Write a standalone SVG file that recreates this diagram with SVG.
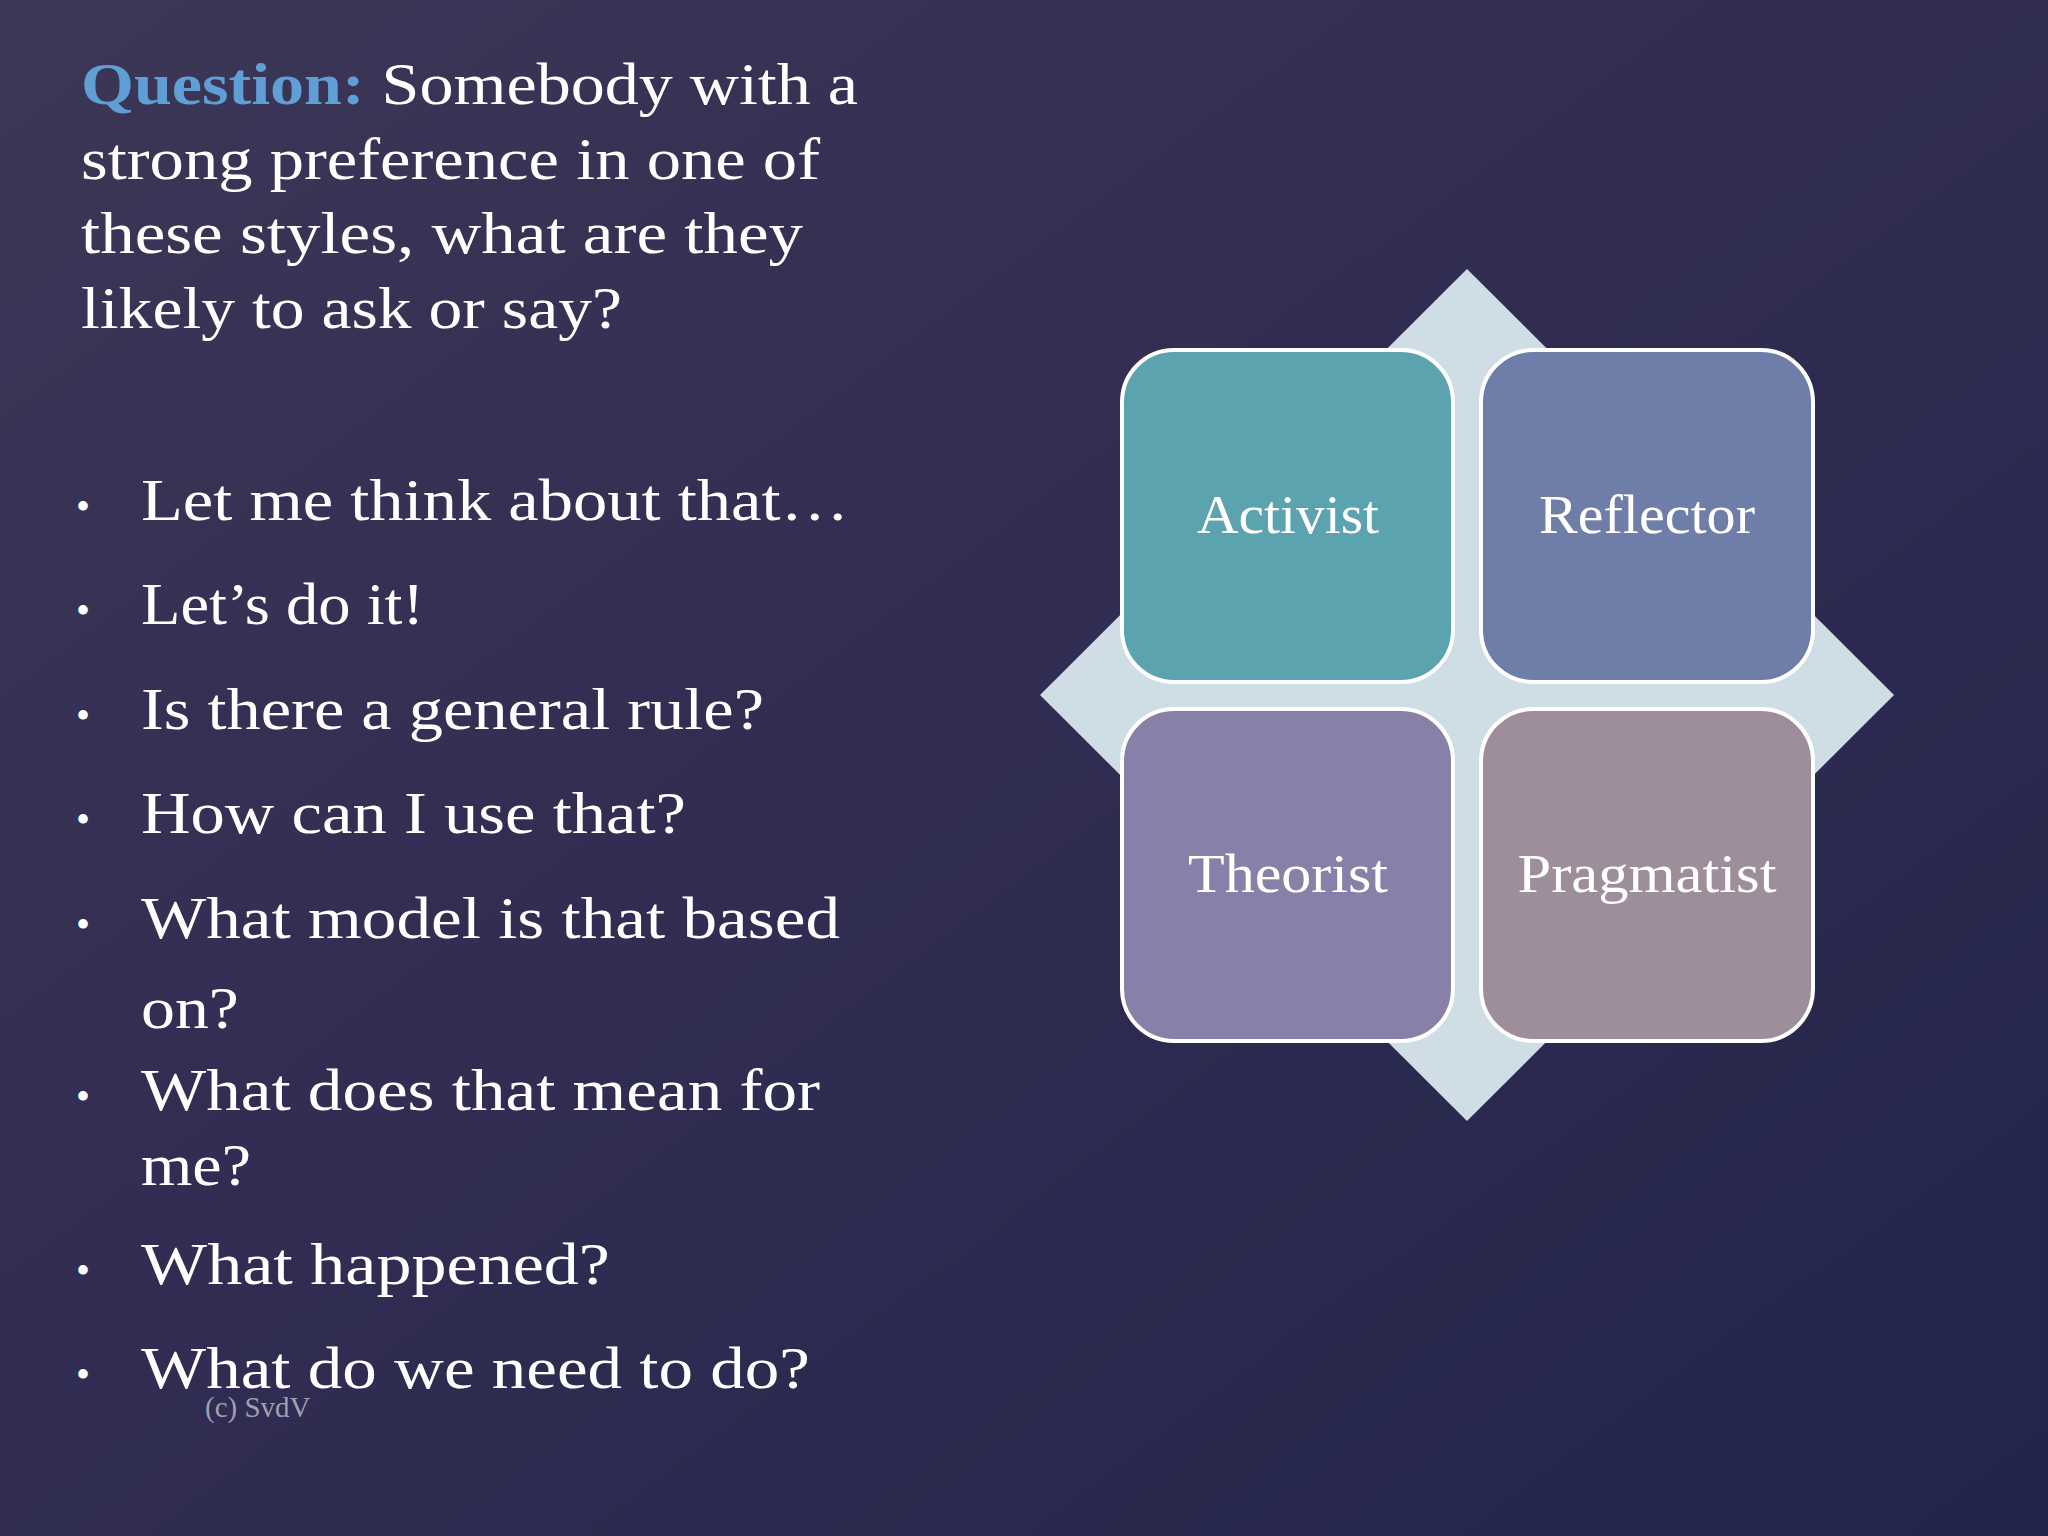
<svg xmlns="http://www.w3.org/2000/svg" width="2048" height="1536" viewBox="0 0 2048 1536">
<defs>
<linearGradient id="bg" x1="0" y1="0" x2="1" y2="1">
<stop offset="0" stop-color="#3c3756"/>
<stop offset="0.5" stop-color="#302c52"/>
<stop offset="1" stop-color="#22254a"/>
</linearGradient>
<style>
.t{font-family:"Liberation Serif","DejaVu Serif",serif;fill:#ffffff;font-size:60px}
.b{font-family:"Liberation Serif",serif;fill:#ffffff;font-size:40px}
.box{stroke:#ffffff;stroke-width:4}
.lbl{font-family:"Liberation Serif","DejaVu Serif",serif;fill:#ffffff;font-size:54px;text-anchor:middle}
</style>
</defs>
<rect width="2048" height="1536" fill="url(#bg)"/>
<g id="title">
<text class="t" x="81" y="104" textLength="777" lengthAdjust="spacingAndGlyphs"><tspan fill="#5f9fd5" font-weight="bold">Question:</tspan> Somebody with a</text>
<text class="t" x="81" y="179" textLength="739" lengthAdjust="spacingAndGlyphs">strong preference in one of</text>
<text class="t" x="81" y="253" textLength="722" lengthAdjust="spacingAndGlyphs">these styles, what are they</text>
<text class="t" x="81" y="328" textLength="541" lengthAdjust="spacingAndGlyphs">likely to ask or say?</text>
</g>
<g id="bullets">
<text class="b" x="76" y="520">•</text><text class="t" x="141" y="520" textLength="708" lengthAdjust="spacingAndGlyphs">Let me think about that…</text>
<text class="b" x="76" y="624">•</text><text class="t" x="141" y="624" textLength="283" lengthAdjust="spacingAndGlyphs">Let’s do it!</text>
<text class="b" x="76" y="729">•</text><text class="t" x="141" y="729" textLength="623" lengthAdjust="spacingAndGlyphs">Is there a general rule?</text>
<text class="b" x="76" y="833">•</text><text class="t" x="141" y="833" textLength="545" lengthAdjust="spacingAndGlyphs">How can I use that?</text>
<text class="b" x="76" y="938">•</text><text class="t" x="141" y="938" textLength="699" lengthAdjust="spacingAndGlyphs">What model is that based</text>
<text class="t" x="141" y="1028" textLength="98" lengthAdjust="spacingAndGlyphs">on?</text>
<text class="b" x="76" y="1110">•</text><text class="t" x="141" y="1110" textLength="679" lengthAdjust="spacingAndGlyphs">What does that mean for</text>
<text class="t" x="141" y="1185" textLength="110" lengthAdjust="spacingAndGlyphs">me?</text>
<text class="b" x="76" y="1284">•</text><text class="t" x="141" y="1284" textLength="469" lengthAdjust="spacingAndGlyphs">What happened?</text>
<text class="b" x="76" y="1388">•</text><text class="t" x="141" y="1388" textLength="669" lengthAdjust="spacingAndGlyphs">What do we need to do?</text>
</g>
<text id="copyright" x="205" y="1417" font-family="Liberation Serif,serif" font-size="29" fill="#a0a0b0">(c) SvdV</text>
<g id="diamond"><polygon points="1467,269 1894,695 1467,1121 1040,695" fill="#cfdde4"/></g>
<g id="activist"><rect class="box" x="1122" y="350" width="331" height="332" rx="52" fill="#5ba3ae"/><text class="lbl" x="1288" y="533" textLength="182" lengthAdjust="spacingAndGlyphs">Activist</text></g>
<g id="reflector"><rect class="box" x="1481" y="350" width="332" height="332" rx="52" fill="#6e7ea8"/><text class="lbl" x="1647" y="533" textLength="216" lengthAdjust="spacingAndGlyphs">Reflector</text></g>
<g id="theorist"><rect class="box" x="1122" y="709" width="331" height="332" rx="52" fill="#8880a8"/><text class="lbl" x="1288" y="892" textLength="200" lengthAdjust="spacingAndGlyphs">Theorist</text></g>
<g id="pragmatist"><rect class="box" x="1481" y="709" width="332" height="332" rx="52" fill="#9e8e9c"/><text class="lbl" x="1647" y="892" textLength="259" lengthAdjust="spacingAndGlyphs">Pragmatist</text></g>
<g id="connectors"/>
</svg>
